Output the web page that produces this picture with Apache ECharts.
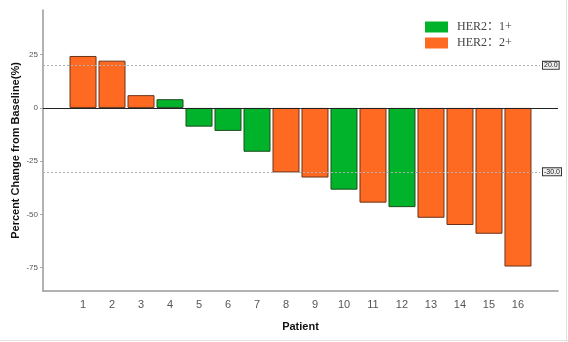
<!DOCTYPE html>
<html>
<head>
<meta charset="utf-8">
<script src="https://cdn.jsdelivr.net/npm/echarts@6/dist/echarts.min.js"></script>
<style>html,body{margin:0;padding:0;background:#fff;}#c{width:568px;height:342px;}</style>
</head>
<body>
<div id="c"></div>
<script>
const patients = [1,2,3,4,5,6,7,8,9,10,11,12,13,14,15,16];
const change = [24.4, 22.2, 6.0, 4.1, -8.8, -10.8, -20.6, -30.3, -32.7, -38.4, -44.5, -46.6, -51.6, -55.0, -59.1, -74.5];
const her2 = ['2+','2+','2+','1+','1+','1+','1+','2+','2+','1+','2+','1+','2+','2+','2+','2+'];
const yTicks = [-75, -50, -25, 0, 25];
const refLines = [20, -30];
const groups = ['1+', '2+'];
const groupNames = ['HER2：1+', 'HER2：2+'];
const groupColors = ['#00B32A', '#FF6A22'];
const groupBorders = ['#1d4d1d', '#6a3318'];

const xMin = -0.38, xMax = 17.38;

const series = groups.map((g, gi) => {
  const s = {
    name: groupNames[gi],
    type: 'bar',
    barWidth: 27,
    barGap: '-100%',
    itemStyle: { color: groupColors[gi], borderColor: groupBorders[gi], borderWidth: 1 },
    data: patients.map((p, i) => her2[i] === g ? [p, change[i]] : null).filter(d => d),
    z: 3
  };
  if (gi === 1) {
    s.markLine = {
      silent: true,
      symbol: 'none',
      animation: false,
      data: [
        [{ coord: [xMin, 0], lineStyle: { color: '#222', type: 'solid', width: 1 }, label: { show: false } },
         { coord: [xMax, 0] }],
        ...refLines.map(v => [
          { coord: [xMin, v], lineStyle: { color: '#b0b0b0', type: [2, 2], width: 1 },
            label: { show: true, position: 'end', formatter: v.toFixed(1), fontSize: 7, color: '#222',
                     fontFamily: 'Liberation Sans', borderColor: '#333', borderWidth: 1, padding: [0, 1, 0, 1],
                     backgroundColor: '#eee', distance: 3 } },
          { coord: [16.76, v] }
        ])
      ]
    };
  }
  return s;
});

const chart = echarts.init(document.getElementById('c'));
chart.setOption({
  animation: false,
  backgroundColor: '#fff',
  grid: { left: 43, right: 10, top: 10, bottom: 51, containLabel: false, outerBoundsMode: 'none' },
  legend: {
    orient: 'vertical', left: 420, top: 16,
    itemWidth: 23, itemHeight: 11, itemGap: 4,
    icon: 'rect',
    itemStyle: { borderWidth: 0 },
    textStyle: { fontFamily: 'Liberation Serif, Noto Sans CJK SC', fontSize: 12, color: '#444', padding: [0, 0, 0, 4] },
    data: groupNames
  },
  xAxis: {
    type: 'value', min: xMin, max: xMax,
    name: 'Patient', nameLocation: 'middle', nameGap: 30, nameMoveOverlap: false,
    nameTextStyle: { fontFamily: 'Liberation Sans', fontWeight: 'bold', fontSize: 11, color: '#111' },
    axisLine: { onZero: false, lineStyle: { color: '#999', width: 1.5 } },
    axisTick: { show: false },
    splitLine: { show: false },
    axisLabel: { customValues: patients, fontSize: 11, color: '#555', fontFamily: 'Liberation Sans', margin: 8 }
  },
  yAxis: {
    type: 'value', min: -86, max: 46,
    name: 'Percent Change from Baseline(%)', nameLocation: 'middle', nameGap: 22, nameMoveOverlap: false,
    nameTextStyle: { fontFamily: 'Liberation Sans', fontWeight: 'bold', fontSize: 11, color: '#111' },
    axisLine: { show: true, onZero: false, lineStyle: { color: '#999', width: 1.5 } },
    axisTick: { show: true, customValues: yTicks, length: 3, lineStyle: { color: '#aaa' } },
    splitLine: { show: false },
    axisLabel: { customValues: yTicks, fontSize: 8, color: '#555', fontFamily: 'Liberation Sans', margin: 5 }
  },
  graphic: [
    { type: 'line', shape: { x1: 566.5, y1: 0, x2: 566.5, y2: 342 }, style: { stroke: '#e2e2e2', lineWidth: 1 } },
    { type: 'line', shape: { x1: 0, y1: 340.5, x2: 568, y2: 340.5 }, style: { stroke: '#e2e2e2', lineWidth: 1 } }
  ],
  series: series
});
</script>
</body>
</html>
